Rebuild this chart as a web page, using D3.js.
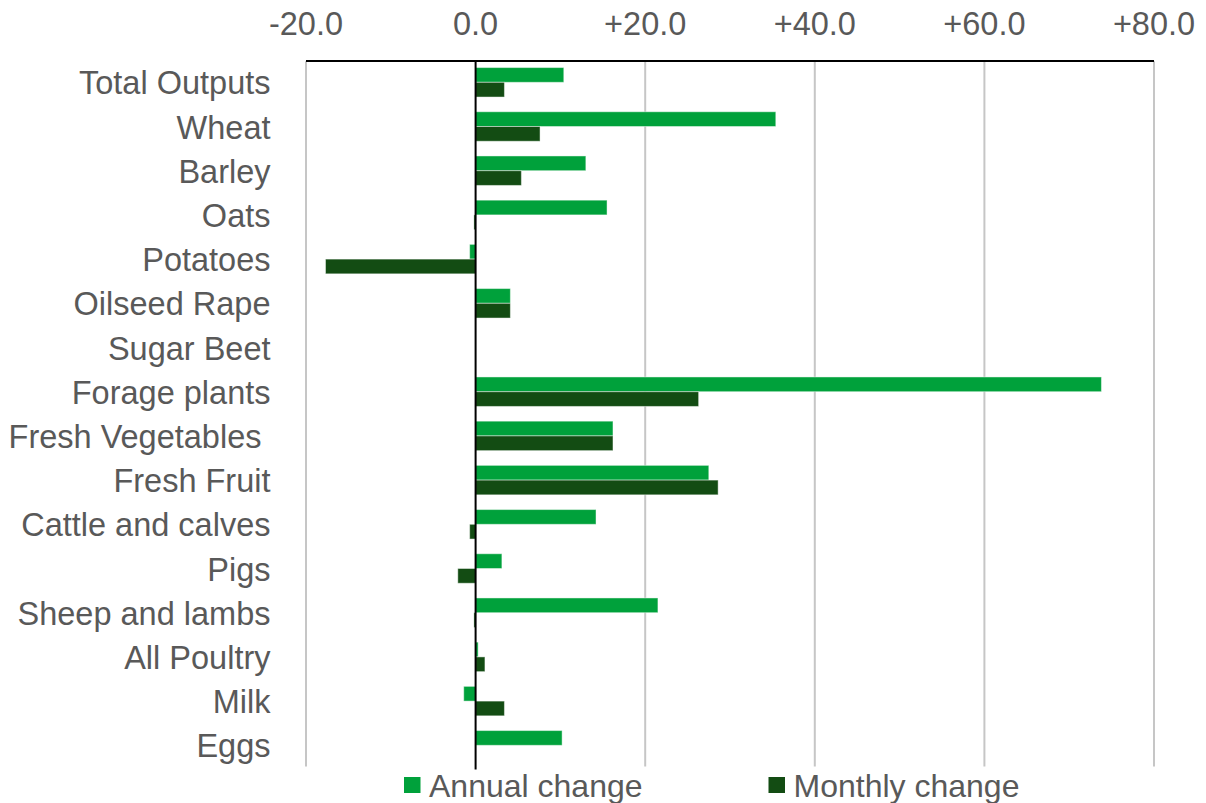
<!DOCTYPE html>
<html>
<head>
<meta charset="utf-8">
<script src="https://cdn.jsdelivr.net/npm/d3@7"></script>
<style>
  html, body { margin: 0; padding: 0; background: #fff; }
  svg text { font-family: "Liberation Sans", Arial, sans-serif; fill: #595959; }
</style>
</head>
<body>
<svg id="chart" width="1206" height="803"></svg>
<script>
// Price index change by product (%)
const categories = [
  "Total Outputs", "Wheat", "Barley", "Oats", "Potatoes", "Oilseed Rape",
  "Sugar Beet", "Forage plants", "Fresh Vegetables ", "Fresh Fruit",
  "Cattle and calves", "Pigs", "Sheep and lambs", "All Poultry", "Milk", "Eggs"
];
const annualChange  = [10.4, 35.4, 13.0, 15.5, -0.7, 4.1, 0, 73.8, 16.2, 27.5, 14.2, 3.1, 21.5, 0.3, -1.4, 10.2];
const monthlyChange = [3.4, 7.6, 5.4, -0.2, -17.7, 4.1, 0, 26.3, 16.2, 28.6, -0.7, -2.1, -0.2, 1.1, 3.4, 0];
const tickValues = [-20, 0, 20, 40, 60, 80];
const seriesNames = ["Annual change", "Monthly change"];
const seriesColors = ["#00A13B", "#134C13"];

const svg = d3.select("#chart");

const plot = { left: 306, right: 1154, top: 60.2, bottom: 767.4 };

const x = d3.scaleLinear().domain([-20, 80]).range([plot.left, plot.right]);
const y = d3.scaleBand().domain(categories).range([plot.top, plot.bottom])
  .paddingInner(1 / 3).paddingOuter(1 / 6);
const ySub = d3.scaleBand().domain([0, 1]).range([0, y.bandwidth()]);

const fmt = d => (d > 0 ? "+" : "") + d.toFixed(1);

// vertical gridlines
svg.append("g").selectAll("line")
  .data(tickValues.filter(d => d !== 0))
  .join("line")
  .attr("x1", d => x(d)).attr("x2", d => x(d))
  .attr("y1", plot.top + 1).attr("y2", plot.bottom - 1)
  .attr("stroke", "#C6C6C6").attr("stroke-width", 2);

// tick labels along the top
svg.append("g").selectAll("text")
  .data(tickValues)
  .join("text")
  .attr("x", d => x(d)).attr("y", 35)
  .attr("text-anchor", "middle")
  .style("font-size", "32.5px")
  .text(fmt);

// bars
const rows = categories.map((c, i) => ({ c, vals: [annualChange[i], monthlyChange[i]] }));
const g = svg.append("g");
rows.forEach(r => {
  r.vals.forEach((v, s) => {
    g.append("rect")
      .attr("x", x(Math.min(0, v)))
      .attr("y", y(r.c) + ySub(s))
      .attr("width", Math.abs(x(v) - x(0)))
      .attr("height", ySub.bandwidth())
      .attr("fill", seriesColors[s])
      .attr("stroke", "rgba(255,255,255,0.45)")
      .attr("stroke-width", 1);
  });
});

// axis lines: top horizontal and zero line
svg.append("line")
  .attr("x1", plot.left).attr("x2", plot.right)
  .attr("y1", 61).attr("y2", 61)
  .attr("stroke", "#000").attr("stroke-width", 2);
svg.append("line")
  .attr("x1", x(0)).attr("x2", x(0))
  .attr("y1", 61).attr("y2", plot.bottom + 2)
  .attr("stroke", "#000").attr("stroke-width", 2);

// category labels
svg.append("g").selectAll("text")
  .data(categories)
  .join("text")
  .attr("x", 270.5)
  .attr("y", d => y(d) + y.bandwidth() / 2 + 12)
  .attr("text-anchor", "end")
  .style("font-size", "32.5px")
  .style("white-space", "pre")
  .text(d => d);

// legend
const legendX = [404, 768.5];
seriesNames.forEach((name, i) => {
  svg.append("rect")
    .attr("x", legendX[i]).attr("y", 777)
    .attr("width", 16.5).attr("height", 16)
    .attr("fill", seriesColors[i]);
  svg.append("text")
    .attr("x", legendX[i] + 25).attr("y", 797)
    .style("font-size", "32px")
    .text(name);
});
</script>
</body>
</html>
